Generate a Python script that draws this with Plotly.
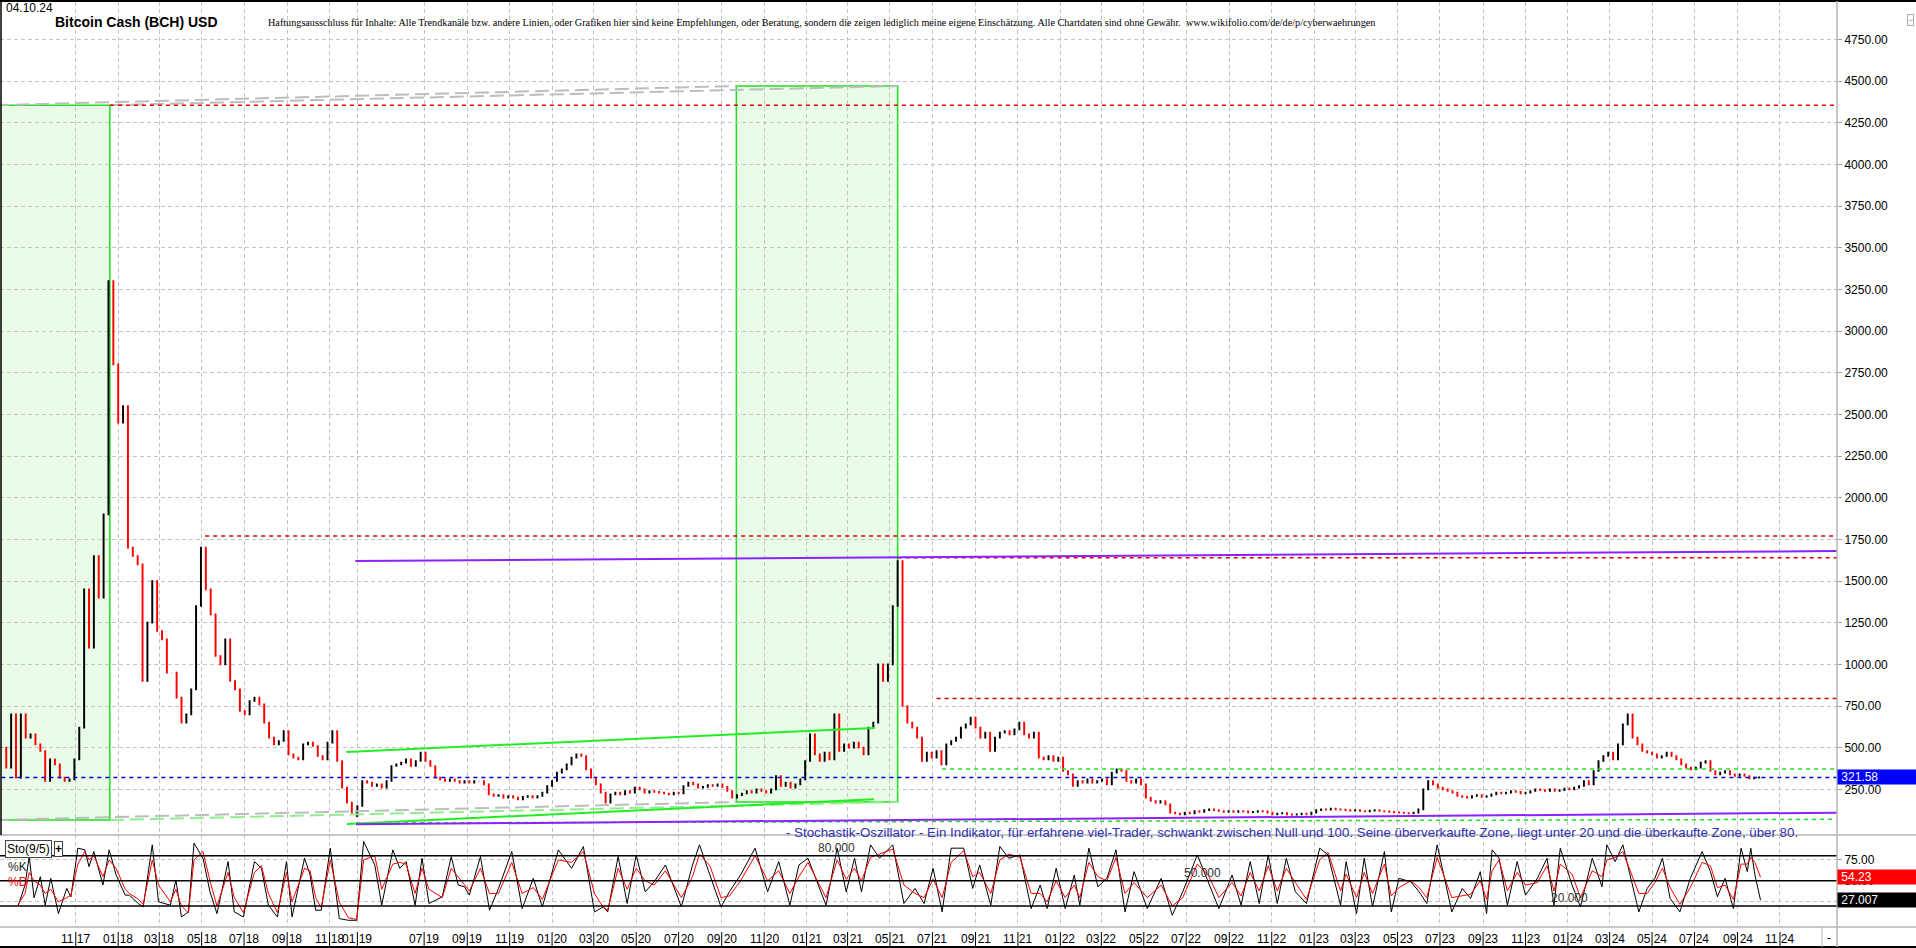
import pandas as pd
import plotly.graph_objects as go

# ---------------------------------------------------------------- time frame
X_ORIGIN = "2017-07-15"
X_END = "2025-01-22"
GAP_START = "2018-12-10"   # the data feed has no bars between these dates
GAP_END = "2019-03-27"

# ---------------------------------------------------------------- weekly closes (USD)
WEEK_START_2017 = "2017-07-17"
close_2017_2018 = [
    500, 380, 700, 320, 700, 560, 580, 520, 480, 300,
    430, 400, 320, 300, 310, 430, 620, 1450, 1100, 1650,
    1400, 1900, 3300, 2800, 2450, 2550, 1700, 1650, 1600, 900,
    1250, 1500, 1200, 1150, 950, 950, 800, 650, 700, 850,
    1350, 1700, 1450, 1300, 1050, 1000, 1150, 900, 850, 720,
    700, 780, 800, 760, 650, 560, 520, 540, 600, 460,
    440, 430, 520, 530, 510, 450, 430, 530, 600, 420,
    260, 170, 110, 90,
]
close_2019_2020 = [
    150, 300, 290, 270, 280, 260, 300, 390, 400, 410,
    430, 390, 420, 470, 420, 390, 320, 310, 300, 310,
    300, 290, 300, 290, 300, 300, 280, 220, 210, 215,
    200, 210, 200, 190, 205, 210, 200, 210, 230, 270,
    300, 350, 370, 400, 440, 460, 450, 370, 320, 280,
    230, 170, 220, 230, 220, 240, 230, 260, 250, 230,
    240, 235, 230, 225, 220, 230, 225, 270, 290, 280,
    260, 265, 275, 270, 280, 265, 240, 200, 215, 225,
    240, 230, 250, 240, 230, 250, 330, 270, 290, 260,
    280, 310, 420,
]
close_2021_2022 = [
    580, 460, 420, 470, 430, 700, 480,
    520, 500, 530, 500, 460, 620, 650, 1000, 900, 1000,
    1350, 1620, 750, 650, 620, 560, 420, 470, 440, 480,
    400, 520, 540, 560, 620, 640, 680, 620, 560, 590,
    480, 560, 590, 600, 580, 610, 650, 580, 560, 590,
    440, 430, 450, 420, 440, 360, 340, 270, 300, 290,
    310, 290, 300, 310, 280, 350, 370, 360, 300, 290,
    310, 280, 200, 180, 170, 180, 160, 110, 105, 100,
    110, 105, 120, 115, 125, 130, 125, 120, 115, 120,
    115, 120, 118, 112, 115, 120, 118, 110, 100, 105,
    108, 100, 98, 100, 105, 100, 110,
]
close_2023_2024 = [
    125, 130, 128,
    135, 130, 128, 125, 122, 125, 120, 118, 122, 125,
    120, 118, 115, 112, 110, 108, 105, 110, 130, 250,
    300, 280, 260, 250, 240, 230, 210, 205, 200, 210,
    215, 205, 210, 220, 230, 225, 230, 240, 235, 225,
    230, 240, 250, 245, 240, 250, 240, 245, 255, 250,
    260, 270, 300, 280, 360, 420, 450, 470, 430, 520,
    640, 700, 560, 520, 480, 470, 460, 440, 450, 470,
    450, 430, 400, 380, 370, 380, 410, 420, 360, 340,
    350, 360, 340, 330, 340, 330, 315, 320, 321.58,
]

# ---------------------------------------------------------------- stochastic (9/5) turning points
stoch_dates_2017_2018 = [
    "2017-08-10", "2017-08-20", "2017-08-26", "2017-09-02", "2017-09-11", "2017-09-18", "2017-09-26", "2017-10-07", "2017-10-19", "2017-10-25",
    "2017-11-04", "2017-11-14", "2017-11-20", "2017-11-27", "2017-12-10", "2017-12-19", "2017-12-29", "2018-01-11", "2018-01-17", "2018-01-30",
    "2018-02-06", "2018-02-19", "2018-02-28", "2018-03-17", "2018-03-25", "2018-04-02", "2018-04-12", "2018-04-20", "2018-05-03", "2018-05-13",
    "2018-05-23", "2018-06-08", "2018-06-17", "2018-06-30", "2018-07-16", "2018-07-26", "2018-08-05", "2018-08-18", "2018-08-31", "2018-09-08",
    "2018-09-26", "2018-10-04", "2018-10-12", "2018-10-20", "2018-11-02", "2018-11-15", "2018-11-28", "2018-12-10",
]
stoch_k_2017_2018 = [
    20, 45, 79, 30, 55, 21, 53, 11, 41, 31,
    89, 87, 67, 85, 45, 87, 57, 33, 33, 23,
    19, 93, 25, 21, 51, 7, 13, 95, 77, 37,
    11, 73, 13, 7, 73, 65, 21, 7, 73, 7,
    77, 57, 15, 15, 89, 5, 3, 3,
]
stoch_d_2017_2018 = [
    22, 35, 60, 50, 45, 35, 40, 25, 30, 33,
    70, 85, 75, 80, 55, 75, 65, 40, 35, 28,
    22, 75, 45, 25, 40, 20, 12, 75, 85, 50,
    20, 60, 30, 12, 60, 68, 35, 12, 60, 25,
    65, 62, 30, 18, 75, 25, 6, 4,
]
stoch_dates_2019_2020 = [
    "2019-04-05", "2019-04-21", "2019-05-01", "2019-05-17", "2019-05-27", "2019-06-05", "2019-06-18", "2019-06-28", "2019-07-08", "2019-07-27",
    "2019-08-09", "2019-08-19", "2019-08-28", "2019-09-04", "2019-09-20", "2019-10-03", "2019-10-16", "2019-11-04", "2019-11-19", "2019-12-05",
    "2019-12-18", "2020-01-10", "2020-01-29", "2020-02-15", "2020-03-02", "2020-03-15", "2020-03-21", "2020-04-05", "2020-04-18", "2020-05-01",
    "2020-05-14", "2020-05-27", "2020-06-12", "2020-07-05", "2020-07-21", "2020-07-31", "2020-08-15", "2020-08-31", "2020-09-12", "2020-09-28",
    "2020-10-19", "2020-11-06", "2020-11-22", "2020-12-08", "2020-12-21",
]
stoch_k_2019_2020 = [
    97, 69, 21, 87, 65, 73, 21, 77, 23, 31,
    79, 45, 43, 33, 79, 15, 41, 85, 17, 53,
    19, 87, 65, 91, 13, 19, 13, 79, 23, 81,
    37, 49, 69, 19, 69, 93, 57, 19, 37, 57,
    89, 37, 73, 21, 69,
]
stoch_d_2019_2020 = [
    75, 80, 40, 70, 72, 70, 35, 65, 40, 30,
    65, 55, 45, 38, 65, 35, 35, 72, 35, 42,
    28, 75, 72, 85, 35, 18, 15, 65, 40, 65,
    50, 45, 62, 30, 55, 82, 68, 30, 32, 50,
    80, 50, 62, 35, 55,
]
stoch_dates_2021_2022 = [
    "2021-01-03", "2021-01-29", "2021-02-14", "2021-02-27", "2021-03-11", "2021-03-21", "2021-04-03", "2021-04-16", "2021-05-05", "2021-05-21",
    "2021-06-06", "2021-06-19", "2021-07-02", "2021-07-15", "2021-07-28", "2021-08-15", "2021-08-28", "2021-09-07", "2021-09-23", "2021-10-06",
    "2021-10-19", "2021-11-04", "2021-11-20", "2021-12-03", "2021-12-13", "2021-12-26",
    "2022-01-08", "2022-01-21", "2022-01-29", "2022-02-11", "2022-02-24", "2022-03-09", "2022-03-22", "2022-04-04", "2022-04-17", "2022-05-06",
    "2022-05-26", "2022-06-11", "2022-06-26", "2022-07-17", "2022-08-01", "2022-08-17", "2022-09-05", "2022-09-18", "2022-10-01", "2022-10-14",
    "2022-10-27", "2022-11-09", "2022-11-22", "2022-12-05", "2022-12-21",
]
stoch_k_2021_2022 = [
    77, 21, 89, 37, 77, 37, 93, 77, 93, 23,
    41, 23, 65, 13, 89, 89, 41, 69, 21, 91,
    77, 81, 17, 45, 17, 65,
    17, 57, 21, 89, 43, 53, 87, 13, 61, 17,
    53, 9, 37, 81, 49, 17, 57, 21, 73, 23,
    81, 23, 77, 37, 23,
]
stoch_d_2021_2022 = [
    72, 30, 75, 52, 65, 50, 78, 82, 88, 45,
    35, 30, 52, 30, 72, 86, 55, 60, 35, 75,
    82, 78, 35, 35, 25, 50,
    30, 45, 30, 72, 55, 50, 78, 35, 48, 30,
    45, 20, 30, 70, 58, 30, 48, 32, 60, 38,
    68, 38, 65, 48, 28,
]
stoch_dates_2023_2024 = [
    "2023-01-09", "2023-01-21", "2023-02-08", "2023-02-16", "2023-03-03", "2023-03-14", "2023-03-26", "2023-04-12", "2023-04-22", "2023-05-03",
    "2023-05-20", "2023-06-01", "2023-06-12", "2023-06-27", "2023-07-18", "2023-08-02", "2023-08-14", "2023-08-28", "2023-09-06", "2023-09-14",
    "2023-09-24", "2023-10-06", "2023-10-20", "2023-11-01", "2023-11-18", "2023-12-02", "2023-12-12", "2023-12-21",
    "2024-01-07", "2024-01-19", "2024-02-05", "2024-02-19", "2024-02-26", "2024-03-09", "2024-03-20", "2024-04-12", "2024-04-24", "2024-05-05",
    "2024-05-16", "2024-05-27", "2024-06-10", "2024-06-25", "2024-07-12", "2024-07-24", "2024-08-03", "2024-08-14", "2024-08-26", "2024-09-06",
    "2024-09-15", "2024-09-20", "2024-09-26", "2024-10-04",
]
stoch_k_2023_2024 = [
    89, 81, 21, 73, 11, 77, 19, 85, 13, 53,
    49, 37, 23, 93, 13, 41, 29, 61, 11, 87,
    77, 21, 73, 33, 53, 77, 21, 89,
    45, 19, 77, 43, 93, 73, 93, 13, 41, 53,
    77, 29, 13, 53, 85, 61, 31, 53, 17, 89,
    61, 89, 57, 27.007,
]
stoch_d_2023_2024 = [
    75, 84, 38, 58, 30, 60, 35, 70, 32, 42,
    50, 42, 30, 78, 30, 32, 34, 50, 28, 62,
    75, 38, 60, 45, 48, 68, 38, 70,
    58, 30, 62, 55, 75, 78, 85, 35, 35, 48,
    65, 42, 22, 42, 72, 68, 42, 45, 28, 70,
    70, 78, 72, 54.23,
]

# ---------------------------------------------------------------- axis ticks
tick_dates = [
    "2017-11-01", "2018-01-01", "2018-03-01", "2018-05-01", "2018-07-01", "2018-09-01", "2018-11-01", GAP_END,
    "2019-07-01", "2019-09-01", "2019-11-01", "2020-01-01", "2020-03-01", "2020-05-01", "2020-07-01", "2020-09-01",
    "2020-11-01", "2021-01-01", "2021-03-01", "2021-05-01", "2021-07-01", "2021-09-01", "2021-11-01", "2022-01-01",
    "2022-03-01", "2022-05-01", "2022-07-01", "2022-09-01", "2022-11-01", "2023-01-01", "2023-03-01", "2023-05-01",
    "2023-07-01", "2023-09-01", "2023-11-01", "2024-01-01", "2024-03-01", "2024-05-01", "2024-07-01", "2024-09-01",
    "2024-11-01",
]
tick_labels = [
    "11 17", "01 18", "03 18", "05 18", "07 18", "09 18", "11 18", "01 19",
    "07 19", "09 19", "11 19", "01 20", "03 20", "05 20", "07 20", "09 20",
    "11 20", "01 21", "03 21", "05 21", "07 21", "09 21", "11 21", "01 22",
    "03 22", "05 22", "07 22", "09 22", "11 22", "01 23", "03 23", "05 23",
    "07 23", "09 23", "11 23", "01 24", "03 24", "05 24", "07 24", "09 24",
    "11 24",
]
price_ticks = [250, 500, 750, 1000, 1250, 1500, 1750, 2000, 2250, 2500, 2750, 3000,
               3250, 3500, 3750, 4000, 4250, 4500, 4750]
stoch_ticks = [25, 50, 75]
stoch_tick_labels = ["", "50.00", "75.00"]
stoch_levels = [20, 50, 80]

# ---------------------------------------------------------------- drawn analysis objects (date, price)
resistance_levels = [("2017-12-20", 4355), ("2018-05-06", 1770), ("2021-05-12", 1640), ("2021-07-07", 795)]
support_level = ("2021-07-15", 372)
boxes = [("2017-07-08", "2017-12-20", 66, 4355), ("2020-09-22", "2021-05-12", 174, 4470)]
purple_lines = [(("2018-12-08", 1620), (X_END, 1680)), (("2018-12-09", 40), (X_END, 110))]
green_channel = [(("2018-11-25", 474), ("2021-04-09", 618)), (("2018-11-26", 42), ("2021-04-08", 190))]
green_dashed_trend = (("2018-12-09", 48), (X_END, 70))

DISCLAIMER = ("Haftungsausschluss für Inhalte: Alle Trendkanäle bzw. andere Linien, oder Grafiken hier sind keine "
              "Empfehlungen, oder Beratung, sondern die zeigen lediglich meine eigene Einschätzung. Alle Chartdaten "
              "sind ohne Gewähr.  www.wikifolio.com/de/de/p/cyberwaehrungen")
STOCH_NOTE = ("- Stochastik-Oszillator - Ein Indikator, für erfahrene viel-Trader, schwankt zwischen Null und 100. "
              "Seine überverkaufte Zone, liegt unter 20 und die überkaufte Zone, über 80.")


# ---------------------------------------------------------------- helpers
_o, _gs, _ge = pd.Timestamp(X_ORIGIN), pd.Timestamp(GAP_START), pd.Timestamp(GAP_END)
_GAP_DAYS = (_ge - _gs).days - 1


def to_x(d):
    d = pd.Timestamp(d)
    x = (d - _o).days
    if d >= _ge:
        x -= _GAP_DAYS
    return x


W, H = 1916, 948
PLOT_W, PLOT_H, TOP, BOTTOM = 1837, 925, 2, 927


def px(xp):
    return xp / PLOT_W


def py(yp):
    return (BOTTOM - yp) / PLOT_H


SPLIT = py(835)
RIGHT = W / PLOT_W

# ---------------------------------------------------------------- data assembly
pre_dates = pd.date_range(WEEK_START_2017, periods=len(close_2017_2018), freq="7D")
post_close = close_2019_2020 + close_2021_2022 + close_2023_2024
post_dates = pd.date_range(GAP_END, periods=len(post_close), freq="7D")
dates = list(pre_dates) + list(post_dates)
close = close_2017_2018 + post_close
open_ = [close[0]] + close[:-1]
high = [max(a, b) for a, b in zip(open_, close)]
low = [min(a, b) for a, b in zip(open_, close)]
x_price = [to_x(d) for d in dates]

stoch_dates = stoch_dates_2017_2018 + stoch_dates_2019_2020 + stoch_dates_2021_2022 + stoch_dates_2023_2024
stoch_k = stoch_k_2017_2018 + stoch_k_2019_2020 + stoch_k_2021_2022 + stoch_k_2023_2024
stoch_d = stoch_d_2017_2018 + stoch_d_2019_2020 + stoch_d_2021_2022 + stoch_d_2023_2024
x_stoch = [to_x(d) for d in stoch_dates]

fig = go.Figure()
fig.add_trace(go.Candlestick(
    x=x_price, open=open_, high=high, low=low, close=close,
    xaxis="x2", yaxis="y", whiskerwidth=0, hoverinfo="skip", showlegend=False,
    increasing=dict(line=dict(color="black", width=1.6), fillcolor="black"),
    decreasing=dict(line=dict(color="#FF0000", width=1.6), fillcolor="#FF0000"),
))
fig.add_trace(go.Scatter(x=x_stoch, y=stoch_k, mode="lines", xaxis="x", yaxis="y2",
                         line=dict(color="black", width=1), hoverinfo="skip", showlegend=False))
fig.add_trace(go.Scatter(x=x_stoch, y=stoch_d, mode="lines", xaxis="x", yaxis="y2",
                         line=dict(color="#FF0000", width=1), hoverinfo="skip", showlegend=False))

# ---------------------------------------------------------------- shapes
shapes = []
for d0, d1, lo, hi in boxes:
    shapes.append(dict(type="rect", xref="x2", yref="y", x0=to_x(d0), x1=to_x(d1), y0=lo, y1=hi,
                       fillcolor="#E8FCE8", line=dict(color="#1EE01E", width=1.5), layer="below"))


def seg(p0, p1, color, width, dash="solid"):
    shapes.append(dict(type="line", xref="x2", yref="y", x0=to_x(p0[0]), y0=p0[1], x1=to_x(p1[0]), y1=p1[1],
                       line=dict(color=color, width=width, dash=dash), layer="above"))


b1, b2 = boxes
seg((b1[0], b1[3]), (b2[0], b2[3]), "#BDBDBD", 2, "14px,6px")
seg((b1[1], b1[3]), (b2[1], b2[3]), "#BDBDBD", 2, "14px,6px")
seg((b1[0], b1[2]), (b2[0], b2[2]), "#BDBDBD", 2, "14px,6px")
seg((b1[1], b1[2]), (b2[1], b2[2]), "#90EE90", 2, "14px,6px")
for d, v in resistance_levels:
    seg((d, v), (X_END, v), "#E00000", 1.5, "4px,4px")
seg(support_level, (X_END, support_level[1]), "#22E022", 1.5, "4px,4px")
seg(green_dashed_trend[0], green_dashed_trend[1], "#22E022", 1.5, "4px,4px")
for p0, p1 in green_channel:
    seg(p0, p1, "#22EE22", 2)
for p0, p1 in purple_lines:
    seg(p0, p1, "#8B22FF", 2)
seg((dates[0], close[-1]), (X_END, close[-1]), "#0000DD", 1.5, "4px,4px")

for lv in stoch_levels:
    shapes.append(dict(type="line", xref="paper", yref="y2", x0=0, x1=1, y0=lv, y1=lv,
                       line=dict(color="black", width=1.5), layer="above"))

# frame / separators
shapes.append(dict(type="line", xref="paper", yref="paper", x0=0, x1=RIGHT, y0=py(1), y1=py(1),
                   line=dict(color="black", width=2)))
shapes.append(dict(type="line", xref="paper", yref="paper", x0=0, x1=RIGHT, y0=SPLIT, y1=SPLIT,
                   line=dict(color="#B4B4B4", width=1.5)))
shapes.append(dict(type="line", xref="paper", yref="paper", x0=0, x1=RIGHT, y0=py(927), y1=py(927),
                   line=dict(color="#B4B4B4", width=1.5)))
shapes.append(dict(type="line", xref="paper", yref="paper", x0=0, x1=RIGHT, y0=py(947), y1=py(947),
                   line=dict(color="black", width=2)))
shapes.append(dict(type="line", xref="paper", yref="paper", x0=px(1), x1=px(1), y0=SPLIT, y1=py(1),
                   line=dict(color="black", width=1.5)))
shapes.append(dict(type="line", xref="paper", yref="paper", x0=1, x1=1, y0=py(947), y1=py(1),
                   line=dict(color="#B4B4B4", width=1.5)))
shapes.append(dict(type="line", xref="paper", yref="paper", x0=px(1822), x1=px(1822), y0=py(947), y1=py(927),
                   line=dict(color="#B4B4B4", width=1)))
for d in tick_dates:
    shapes.append(dict(type="line", xref="x", yref="paper", x0=to_x(d), x1=to_x(d), y0=py(932), y1=py(946),
                       line=dict(color="black", width=1)))

# ---------------------------------------------------------------- annotations
ann = []


def text(t, x, y, size=12, color="black", xanchor="left", yanchor="middle", family=None, **kw):
    f = dict(size=size, color=color)
    if family:
        f["family"] = family
    d = dict(text=t, x=x, y=y, xref=kw.pop("xref", "paper"), yref=kw.pop("yref", "paper"),
             xanchor=xanchor, yanchor=yanchor, showarrow=False, font=f)
    d.update(kw)
    ann.append(d)


# time-axis labels (month | year around each tick)
for d, lab in zip(tick_dates, tick_labels):
    text(lab, to_x(d), py(939), size=12, xanchor="center", xref="x", borderpad=0)

text("04.10.24", px(4), py(8), size=12)
text("<b>Bitcoin Cash (BCH) USD</b>", px(53), py(22), size=14)
text(DISCLAIMER, px(266), py(22), size=10.2, family="Liberation Serif")
text(STOCH_NOTE, px(784), py(832), size=13.3, color="#3030B0")
text("Sto(9/5)", px(5), py(849), size=12, bordercolor="#444444", borderwidth=1, borderpad=1, bgcolor="white")
text("<b>+</b>", px(54), py(849), size=12, bordercolor="#444444", borderwidth=1, borderpad=0, bgcolor="white")
text("%K", px(6), py(867), size=12, color="#222222")
text("%D", px(6), py(882), size=12, color="#FF0000")
text("80.000", to_x("2021-02-13"), 80, size=12, color="#333333", xanchor="center", yanchor="bottom",
     xref="x", yref="y2", yshift=-1)
text("50.000", to_x("2022-07-24"), 50, size=12, color="#333333", xanchor="center", yanchor="bottom",
     xref="x", yref="y2", yshift=-1)
text("20.000", to_x("2024-01-03"), 20, size=12, color="#333333", xanchor="center", yanchor="bottom",
     xref="x", yref="y2", yshift=-1)
text("&nbsp;" + f"{close[-1]:.2f}", 1, close[-1], size=12, color="white", yref="y",
     bgcolor="#0000FF", width=78, height=14, align="left", borderpad=0)
text("&nbsp;" + f"{stoch_d[-1]:.2f}", 1, stoch_d[-1], size=12, color="white", yref="y2",
     bgcolor="#FF0000", width=78, height=14, align="left", borderpad=0)
text("&nbsp;" + f"{stoch_k[-1]:.3f}", 1, stoch_k[-1], size=12, color="white", yref="y2",
     bgcolor="#000000", width=78, height=14, align="left", borderpad=0)
text("-", px(1829), py(938), size=12, xanchor="center")
text("−", px(1910), py(20), size=9, color="#999999", xanchor="center", bordercolor="#AAAAAA",
     borderwidth=1, borderpad=0)

# ---------------------------------------------------------------- layout
grid = dict(showgrid=True, gridcolor="#C4C4C4", griddash="4px,3px", gridwidth=1, zeroline=False,
            automargin=False)
xr = [to_x(X_ORIGIN), to_x(X_END)]
tickv = [to_x(d) for d in tick_dates]

fig.update_layout(
    width=W, height=H,
    margin=dict(l=0, r=W - PLOT_W, t=TOP, b=H - BOTTOM, autoexpand=False),
    paper_bgcolor="white", plot_bgcolor="white",
    font=dict(family="Liberation Sans, Arial, sans-serif", size=12, color="black"),
    showlegend=False, hovermode=False,
    xaxis=dict(domain=[0, 1], anchor="y2", range=xr, tickmode="array", tickvals=tickv,
               showticklabels=False, ticks="", showline=False,
               rangeslider=dict(visible=False), **grid),
    xaxis2=dict(domain=[0, 1], anchor="y", matches="x", range=xr, tickmode="array", tickvals=tickv,
                showticklabels=False, ticks="", rangeslider=dict(visible=False), **grid),
    yaxis=dict(domain=[SPLIT, 1], anchor="x2", side="right", range=[-24, 4974], tickmode="array",
               tickvals=price_ticks, ticktext=[f"{v:.2f}" for v in price_ticks],
               ticks="outside", ticklen=4, tickcolor="#A0A0A0", showline=False,
               tickfont=dict(size=12, color="black"), **grid),
    yaxis2=dict(domain=[0, SPLIT], anchor="x", side="right", range=[-5, 104.7], tickmode="array",
                tickvals=stoch_ticks, ticktext=stoch_tick_labels,
                ticks="outside", ticklen=4, tickcolor="#A0A0A0", showline=False,
                tickfont=dict(size=12, color="black"), **grid),
    shapes=shapes,
    annotations=ann,
)

fig.write_html("out.html", config={"displayModeBar": False},
               post_script="document.body.style.margin='0px';document.body.style.padding='0px';")
